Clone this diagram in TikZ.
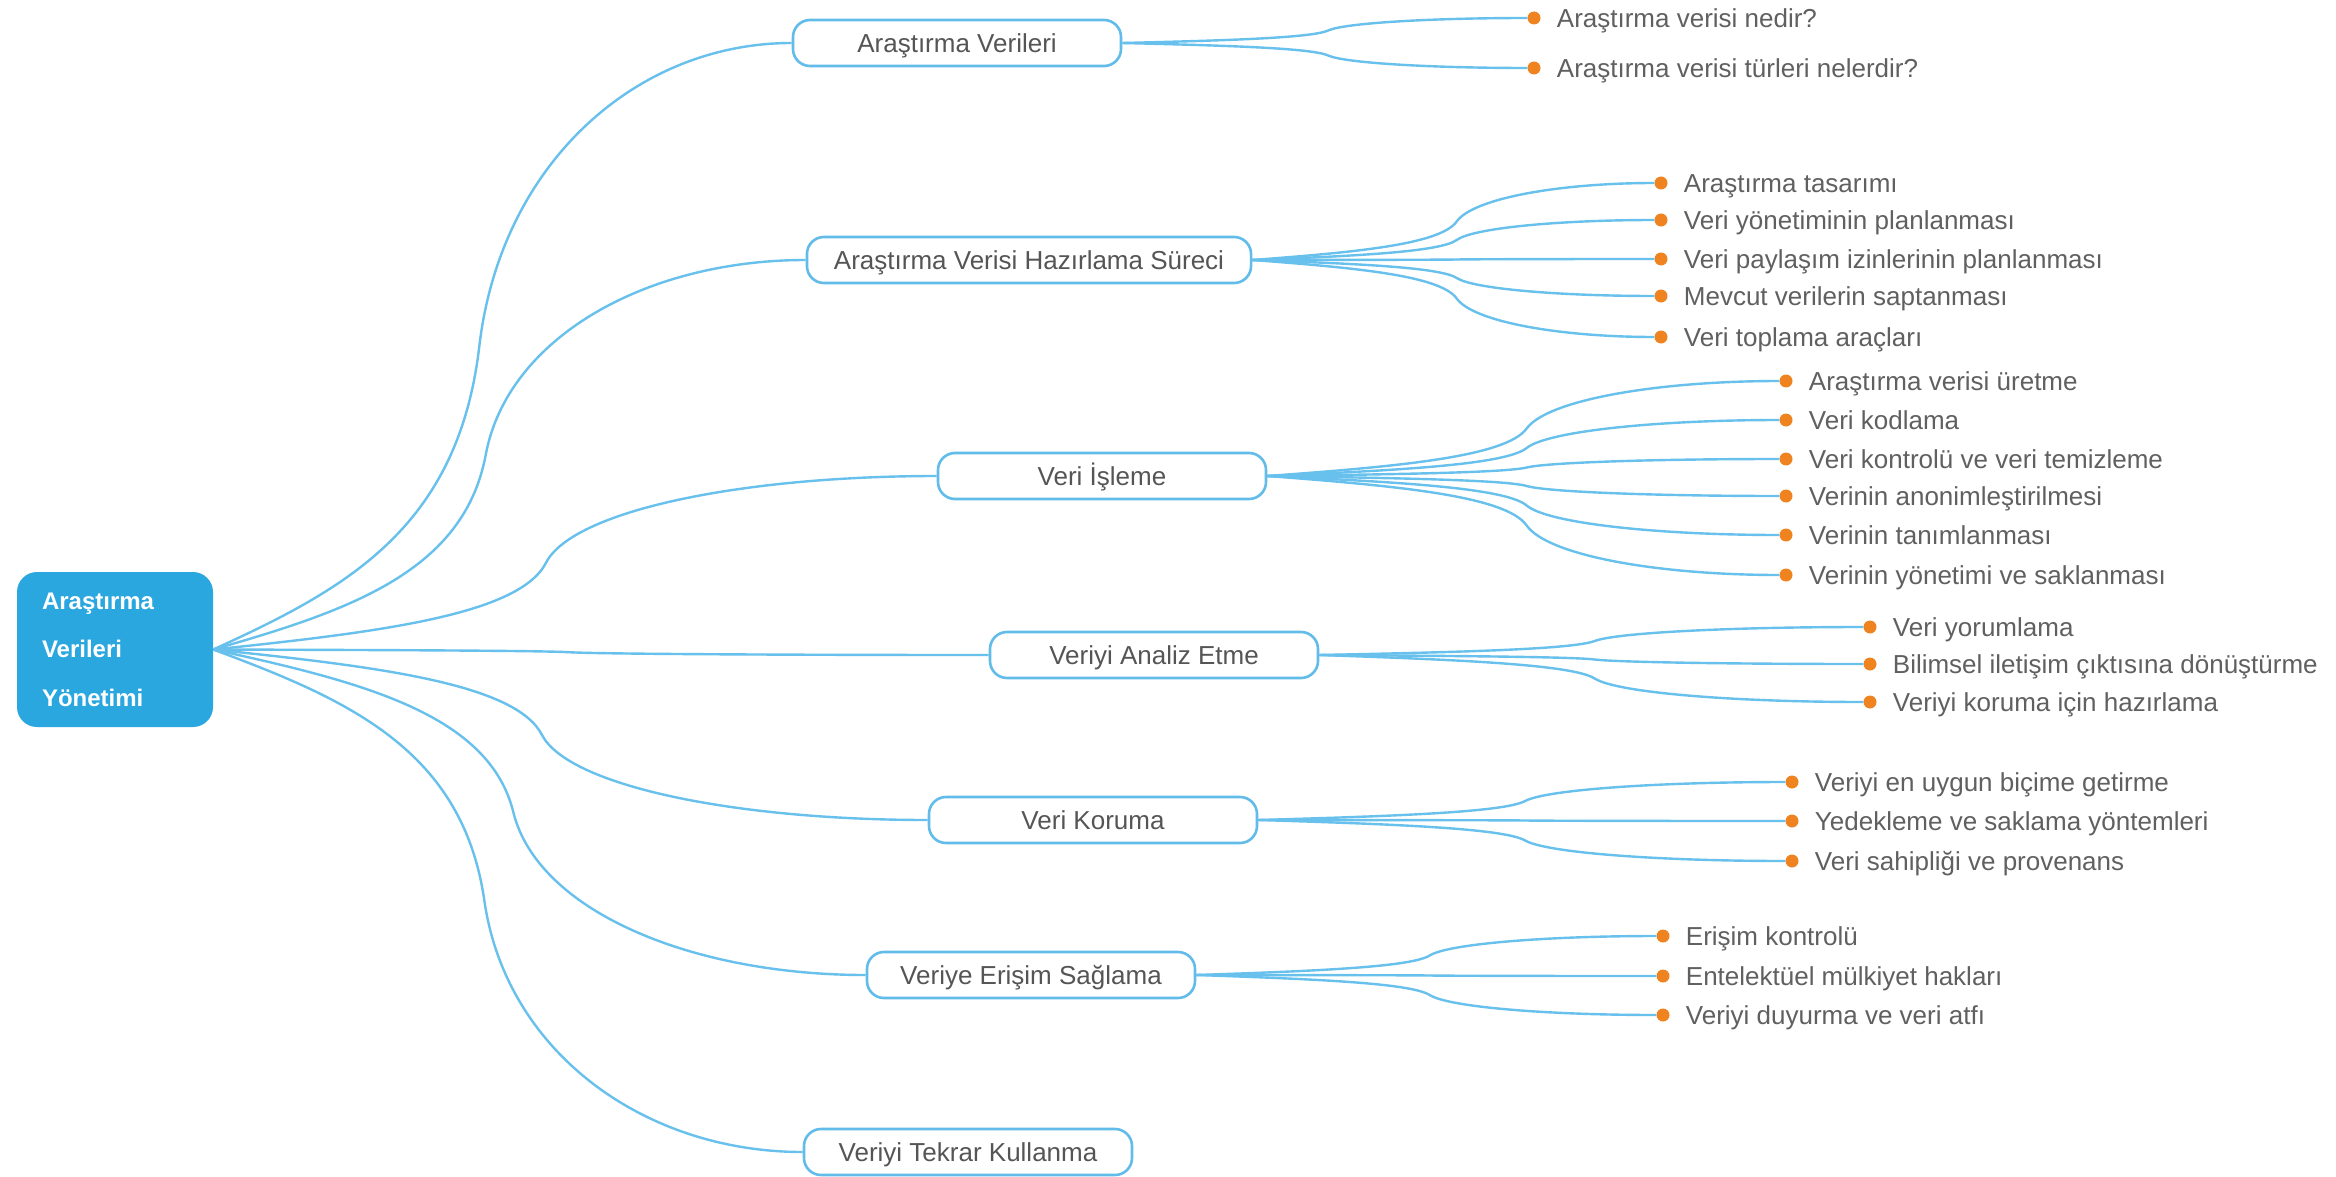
\documentclass[tikz,border=0pt]{standalone}
\usepackage{fontspec}
\setmainfont{Liberation Sans}
\usepackage{xcolor}
\usetikzlibrary{positioning,calc}

\definecolor{rootblue}{RGB}{43,167,224}
\definecolor{frameblue}{RGB}{98,188,234}
\definecolor{linkblue}{RGB}{104,192,236}
\definecolor{dotorange}{RGB}{239,131,32}
\definecolor{topicgray}{RGB}{85,85,85}
\definecolor{leafgray}{RGB}{96,96,96}

\begin{document}
\begin{tikzpicture}[x=1pt, y=-1pt,
    rootbox/.style={fill=rootblue, rounded corners=20pt, text=white, align=left,
        text width=146pt, inner xsep=25pt, minimum height=155pt,
        font=\bfseries\fontsize{24}{48.5}\selectfont},
    topicbox/.style={draw=frameblue, line width=2.6pt, fill=white, rounded corners=17pt,
        minimum width=328pt, minimum height=46pt, inner xsep=27pt,
        text height=18.6pt, text depth=0pt, text=topicgray, font=\fontsize{26}{31}\selectfont},
    leafdot/.style={circle, fill=dotorange, inner sep=0pt, minimum size=13pt},
    leaftext/.style={inner sep=0pt, text height=18.6pt, text depth=0pt, text=leafgray,
        font=\fontsize{26}{31}\selectfont},
    mmlink/.style={draw=linkblue, line width=2.4pt},
    curvelink/.style={to path={
        let \p1=(\tikztostart), \p2=(\tikztotarget),
            \n1={\x1+#1*(\x2-\x1)}, \n2={\y2-(\y1)}, \n3={\n1-\x1}
        in .. controls ({\x1+0.5*\n3}, {\y1+0.1*\n2}) and ({\n1-0.08*\n3}, {\y1+0.2*\n2}) .. ({\n1+0pt}, {\y1+0.5*\n2})
        .. controls ({\n1+0.08*\n3}, {\y1+0.8*\n2}) and ({\x2-0.5*(\x2-\n1)}, \y2) .. (\tikztotarget) \tikztonodes}},
    curvelink/.default=0.5
]
\path[fill=white, use as bounding box] (0,0) rectangle (2336,1177);

\node[rootbox] (yonetim) at (115,649.5) {Araştırma\\Verileri\\Yönetimi};

\node[topicbox] (verileri) at (957,43) {Araştırma Verileri};
\node[topicbox] (hazirlik) at (1029,260) {Araştırma Verisi Hazırlama Süreci};
\node[topicbox] (isleme) at (1102,476) {Veri İşleme};
\node[topicbox] (analiz) at (1154,655) {Veriyi Analiz Etme};
\node[topicbox] (koruma) at (1093,820) {Veri Koruma};
\node[topicbox] (erisim) at (1031,975) {Veriye Erişim Sağlama};
\node[topicbox] (tekrar) at (968,1152) {Veriyi Tekrar Kullanma};

\foreach \kol in {verileri,hazirlik,isleme,analiz,koruma,erisim,tekrar}
    \draw[mmlink] (yonetim.east) to[curvelink=0.46] (\kol.west);

\foreach \ly/\lbl [count=\i] in {18/Araştırma verisi nedir?, 68/Araştırma verisi türleri nelerdir?}{
    \node[leafdot] (verileri-\i) at (1534,\ly) {};
    \node[leaftext, right=16pt of verileri-\i] {\lbl};
    \draw[mmlink] (verileri.east) to[curvelink] (verileri-\i);
}
\foreach \ly/\lbl [count=\i] in {183/Araştırma tasarımı, 220/Veri yönetiminin planlanması,
        259/Veri paylaşım izinlerinin planlanması, 296/Mevcut verilerin saptanması,
        337/Veri toplama araçları}{
    \node[leafdot] (hazirlik-\i) at (1661,\ly) {};
    \node[leaftext, right=16pt of hazirlik-\i] {\lbl};
    \draw[mmlink] (hazirlik.east) to[curvelink] (hazirlik-\i);
}
\foreach \ly/\lbl [count=\i] in {381/Araştırma verisi üretme, 420/Veri kodlama,
        459/Veri kontrolü ve veri temizleme, 496/Verinin anonimleştirilmesi,
        535/Verinin tanımlanması, 575/Verinin yönetimi ve saklanması}{
    \node[leafdot] (isleme-\i) at (1786,\ly) {};
    \node[leaftext, right=16pt of isleme-\i] {\lbl};
    \draw[mmlink] (isleme.east) to[curvelink] (isleme-\i);
}
\foreach \ly/\lbl [count=\i] in {627/Veri yorumlama, 664/Bilimsel iletişim çıktısına dönüştürme,
        702/Veriyi koruma için hazırlama}{
    \node[leafdot] (analiz-\i) at (1870,\ly) {};
    \node[leaftext, right=16pt of analiz-\i] {\lbl};
    \draw[mmlink] (analiz.east) to[curvelink] (analiz-\i);
}
\foreach \ly/\lbl [count=\i] in {782/Veriyi en uygun biçime getirme, 821/Yedekleme ve saklama yöntemleri,
        861/Veri sahipliği ve provenans}{
    \node[leafdot] (koruma-\i) at (1792,\ly) {};
    \node[leaftext, right=16pt of koruma-\i] {\lbl};
    \draw[mmlink] (koruma.east) to[curvelink] (koruma-\i);
}
\foreach \ly/\lbl [count=\i] in {936/Erişim kontrolü, 976/Entelektüel mülkiyet hakları,
        1015/Veriyi duyurma ve veri atfı}{
    \node[leafdot] (erisim-\i) at (1663,\ly) {};
    \node[leaftext, right=16pt of erisim-\i] {\lbl};
    \draw[mmlink] (erisim.east) to[curvelink] (erisim-\i);
}
\end{tikzpicture}
\end{document}
